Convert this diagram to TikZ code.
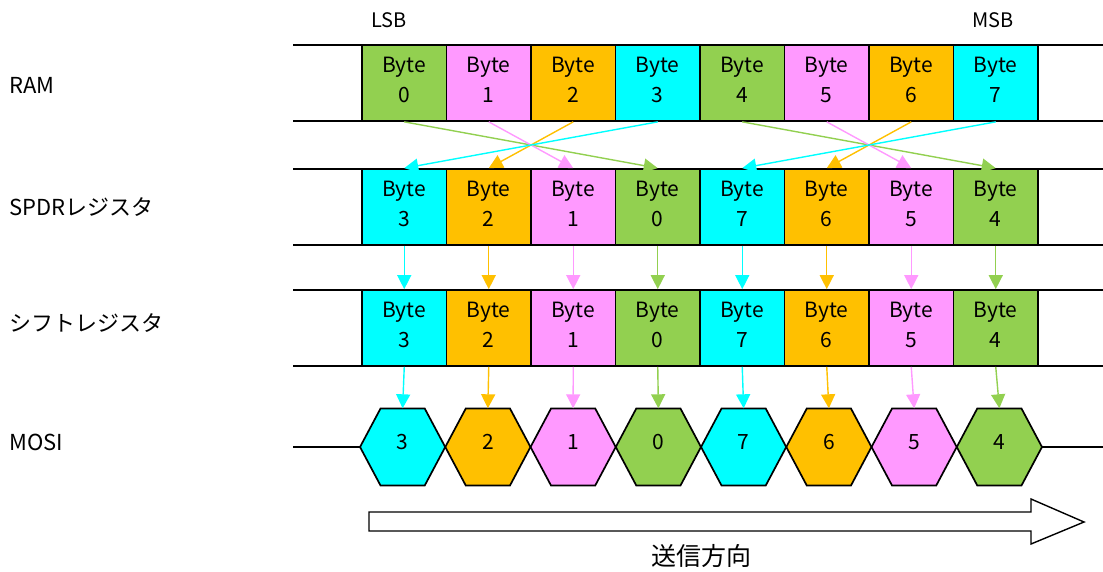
\documentclass[tikz,border=0pt]{standalone}
\usepackage{fontspec}
\setmainfont{Noto Sans CJK JP}
\usetikzlibrary{arrows.meta,calc}
\definecolor{cG}{HTML}{92D050}
\definecolor{cP}{HTML}{FF99FF}
\definecolor{cO}{HTML}{FFC000}
\definecolor{cC}{HTML}{00FFFF}
\newcommand\lowpad{\rule[-6pt]{0pt}{6pt}}
\begin{document}
\begin{tikzpicture}[x=1pt,y=-1pt,
  bytebox/.style={draw=black,line width=1.7pt,minimum width=84.5pt,minimum height=76pt,inner sep=0pt,align=center,font=\fontsize{21}{30}\selectfont},
  rail/.style={line width=1.6pt},
  conn/.style={line width=1.4pt,-{Triangle[width=14pt,length=14pt]}},
  lbl/.style={anchor=west,inner sep=0pt,font=\fontsize{22}{26}\selectfont},
  toplbl/.style={inner sep=0pt,font=\fontsize{20}{25}\selectfont},
  hexlbl/.style={minimum width=85.25pt,minimum height=77pt,inner sep=0pt,text depth=10pt,font=\fontsize{21}{25}\selectfont},
  hexshape/.style={draw=black,line width=1.7pt},
  bigarrow/.style={draw=black,line width=1.4pt,fill=white}]
\useasboundingbox (0,0) rectangle (1103,571);
% rails
\foreach \y in {45,121,169,245,290,366,447} \draw[rail] (293,\y) -- (1103,\y);
% labels
\node[lbl] (lram) at (9,85) {RAM};
\node[lbl] (lspdr) at (9,207) {SPDRレジスタ};
\node[lbl] (lshift) at (9,323) {シフトレジスタ};
\node[lbl] (lmosi) at (9,442) {MOSI};
\node[toplbl] (lsb) at (389,20) {LSB};
\node[toplbl] (msb) at (993,20) {MSB};
% RAM
\foreach \b/\c in {0/cG,1/cP,2/cO,3/cC,4/cG,5/cP,6/cO,7/cC}
  \node[bytebox,fill=\c] (r\b) at ({362+84.5*(\b+0.5)},83) {Byte\\\b\lowpad};
% SPDR, shift, MOSI
\foreach \p/\b/\c in {0/3/cC,1/2/cO,2/1/cP,3/0/cG,4/7/cC,5/6/cO,6/5/cP,7/4/cG}{
  \node[bytebox,fill=\c] (s\p) at ({362+84.5*(\p+0.5)},207) {Byte\\\b\lowpad};
  \node[bytebox,fill=\c] (t\p) at ({362+84.5*(\p+0.5)},328) {Byte\\\b\lowpad};
  \pgfmathsetmacro\hx{360+85.25*(\p+0.5)}
  \path[hexshape,fill=\c] (\hx-42.6,447) -- (\hx-22.1,408.5) -- (\hx+22.1,408.5) -- (\hx+42.6,447) -- (\hx+22.1,485.5) -- (\hx-22.1,485.5) -- cycle;
  \node[hexlbl] (h\p) at (\hx,447) {\b};
}
% connectors RAM -> SPDR
\foreach \b/\p/\c in {0/3/cG,1/2/cP,2/1/cO,3/0/cC,4/7/cG,5/6/cP,6/5/cO,7/4/cC}
  \draw[conn,color=\c] (r\b.south) -- (s\p.north);
% SPDR -> shift -> MOSI
\foreach \p/\c in {0/cC,1/cO,2/cP,3/cG,4/cC,5/cO,6/cP,7/cG}{
  \draw[conn,color=\c] (s\p.south) -- (t\p.north);
  \draw[conn,color=\c] (t\p.south) -- (h\p.north);
}
% direction arrow
\path[bigarrow] (369,512) -- (1031,512) -- (1031,499) -- (1084,522) -- (1031,544) -- (1031,531) -- (369,531) -- cycle;
\node[inner sep=0pt,font=\fontsize{25}{30}\selectfont] (send) at (701,556) {送信方向};
\end{tikzpicture}
\end{document}
